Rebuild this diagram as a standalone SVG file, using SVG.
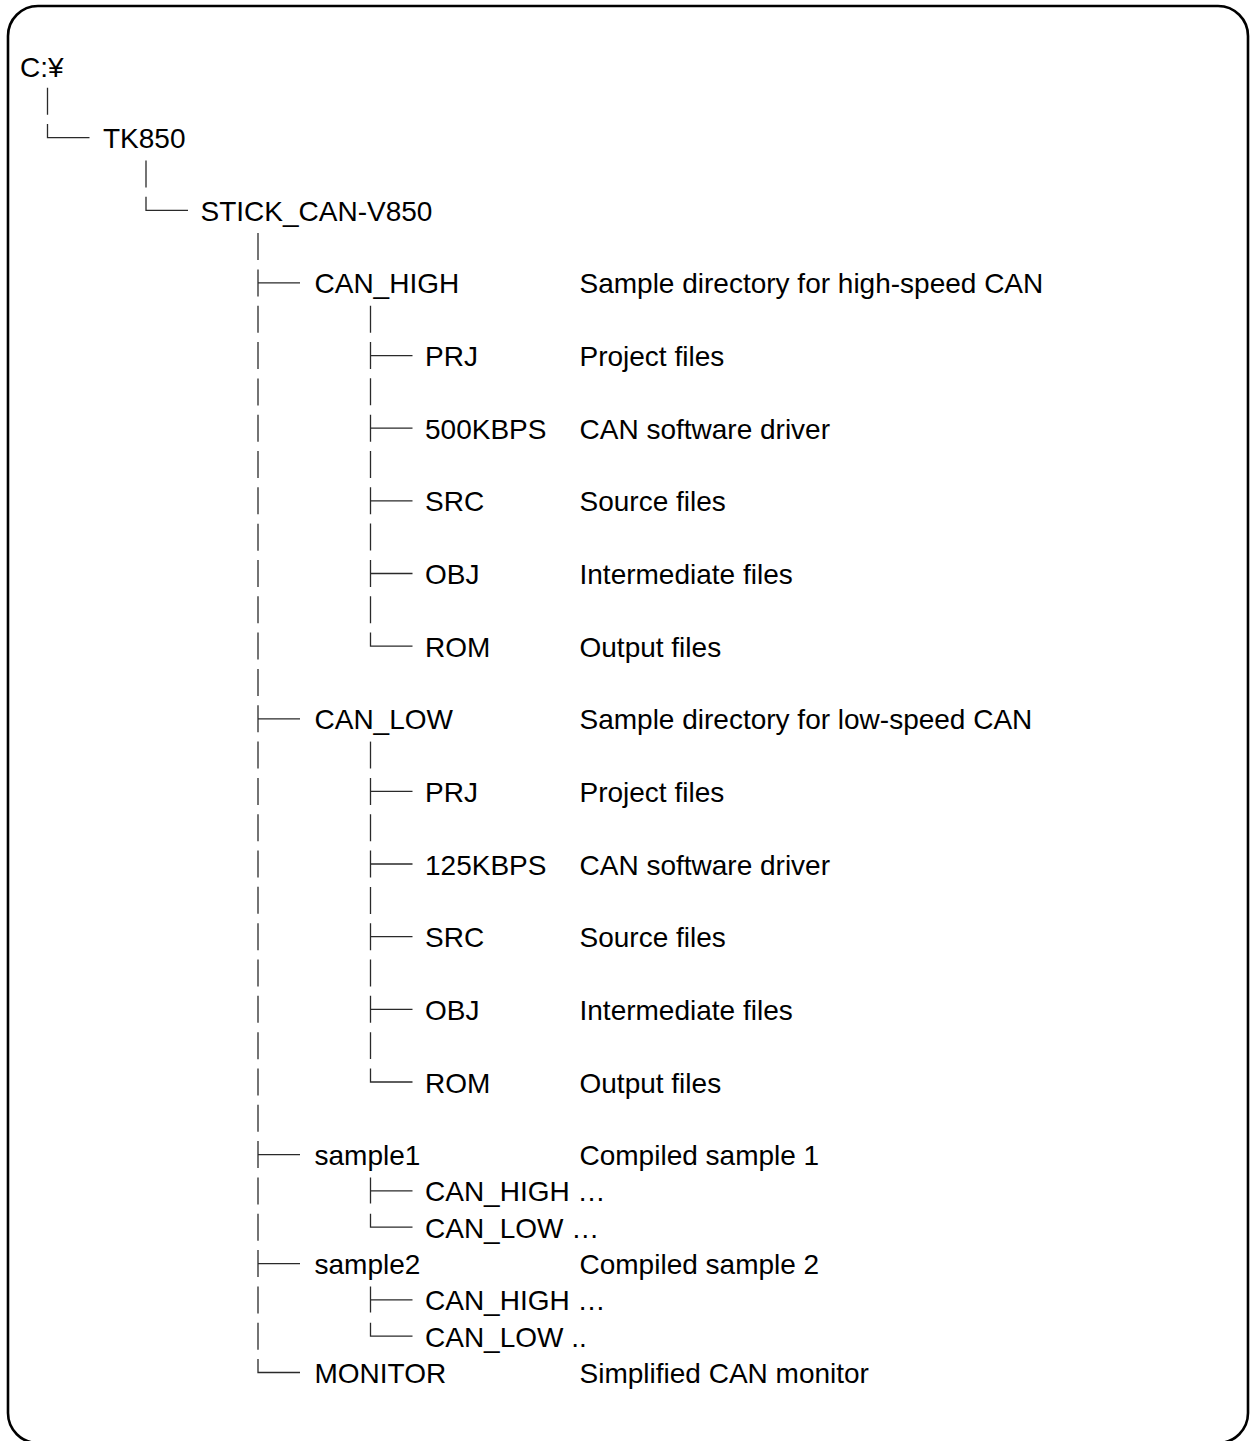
<svg xmlns="http://www.w3.org/2000/svg" width="1250" height="1441" viewBox="0 0 1250 1441">
<style>
text{font-family:"Liberation Sans",Arial,sans-serif;font-size:28px;fill:#000}
.c{stroke:#2a2a2a;stroke-width:1.3;fill:none}
.d{stroke-dasharray:27 9.32}
.frame{fill:#fff;stroke:#000;stroke-width:2.6}
</style>
<rect class="frame" x="8" y="6" width="1240" height="1437" rx="30" ry="30"/>
<g id="connectors">
<path class="c" d="M47.5 87.8V114.8M47.5 124.1V137.6H89.5"/>
<path class="c" d="M146 160.5V187.5M146 196.8V210.3H188"/>
<line class="c d" x1="258" y1="233.1" x2="258" y2="1349.7"/>
<path class="c" d="M258 282.9H300M258 718.8H300M258 1154.6H300M258 1263.6H300M258 1359V1372.5H300"/>
<line class="c d" x1="370.5" y1="305.7" x2="370.5" y2="623.3"/>
<path class="c" d="M370.5 355.6H412.5M370.5 428.2H412.5M370.5 500.8H412.5M370.5 573.5H412.5M370.5 632.6V646.1H412.5"/>
<line class="c d" x1="370.5" y1="741.6" x2="370.5" y2="1059.1"/>
<path class="c" d="M370.5 791.4H412.5M370.5 864H412.5M370.5 936.7H412.5M370.5 1009.3H412.5M370.5 1068.5V1082H412.5"/>
<path class="c" d="M370.5 1177.4V1203.4M370.5 1190.9H412.5M370.5 1213.7V1227.2H412.5"/>
<path class="c" d="M370.5 1286.4V1312.4M370.5 1299.9H412.5M370.5 1322.7V1336.2H412.5"/>
</g>
<g id="root"><text x="20" y="76.8">C:¥</text></g>
<g id="tk850"><text x="103" y="148.1">TK850</text></g>
<g id="stick"><text x="200.5" y="220.8">STICK_CAN-V850</text></g>
<g id="can_high"><text x="314.5" y="293.4">CAN_HIGH</text><text x="579.5" y="293.4">Sample directory for high-speed CAN</text></g>
<g id="high_prj"><text x="425" y="366.1">PRJ</text><text x="579.5" y="366.1">Project files</text></g>
<g id="high_500"><text x="425" y="438.7">500KBPS</text><text x="579.5" y="438.7">CAN software driver</text></g>
<g id="high_src"><text x="425" y="511.3">SRC</text><text x="579.5" y="511.3">Source files</text></g>
<g id="high_obj"><text x="425" y="584">OBJ</text><text x="579.5" y="584">Intermediate files</text></g>
<g id="high_rom"><text x="425" y="656.6">ROM</text><text x="579.5" y="656.6">Output files</text></g>
<g id="can_low"><text x="314.5" y="729.3">CAN_LOW</text><text x="579.5" y="729.3">Sample directory for low-speed CAN</text></g>
<g id="low_prj"><text x="425" y="801.9">PRJ</text><text x="579.5" y="801.9">Project files</text></g>
<g id="low_125"><text x="425" y="874.5">125KBPS</text><text x="579.5" y="874.5">CAN software driver</text></g>
<g id="low_src"><text x="425" y="947.2">SRC</text><text x="579.5" y="947.2">Source files</text></g>
<g id="low_obj"><text x="425" y="1019.8">OBJ</text><text x="579.5" y="1019.8">Intermediate files</text></g>
<g id="low_rom"><text x="425" y="1092.5">ROM</text><text x="579.5" y="1092.5">Output files</text></g>
<g id="sample1"><text x="314.5" y="1165.1">sample1</text><text x="579.5" y="1165.1">Compiled sample 1</text></g>
<g id="s1_high"><text x="425" y="1201.4">CAN_HIGH …</text></g>
<g id="s1_low"><text x="425" y="1237.7">CAN_LOW …</text></g>
<g id="sample2"><text x="314.5" y="1274.1">sample2</text><text x="579.5" y="1274.1">Compiled sample 2</text></g>
<g id="s2_high"><text x="425" y="1310.4">CAN_HIGH …</text></g>
<g id="s2_low"><text x="425" y="1346.7">CAN_LOW ..</text></g>
<g id="monitor"><text x="314.5" y="1383">MONITOR</text><text x="579.5" y="1383">Simplified CAN monitor</text></g>
</svg>
